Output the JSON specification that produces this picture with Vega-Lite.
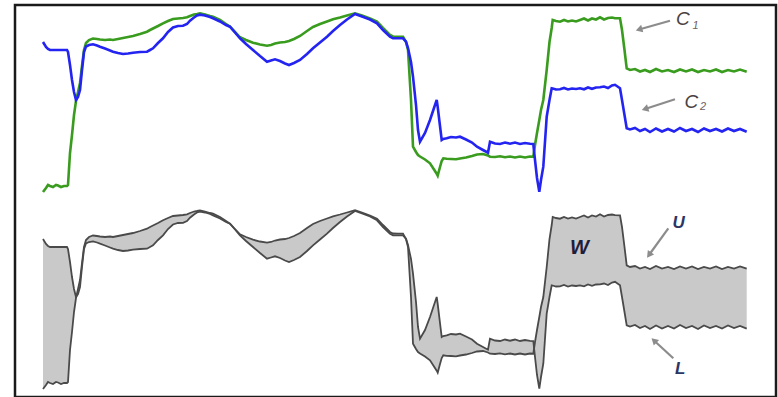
{
  "$schema": "https://vega.github.io/schema/vega-lite/v6.json",
  "autosize": {"type": "fit", "contains": "padding"},
  "width": 778,
  "height": 397,
  "padding": {"left": 15, "top": 5, "right": 2, "bottom": 0},
  "background": "#ffffff",
  "config": {"view": {"stroke": "#1a1a1a", "strokeWidth": 2.5}},
  "datasets": {
    "series": [
      {"t":43,"c1":192,"c2":42},{"t":46,"c1":188,"c2":47},{"t":48,"c1":185,"c2":49},{"t":50,"c1":186,"c2":50},
      {"t":53,"c1":187,"c2":50},{"t":56,"c1":185,"c2":50},{"t":58,"c1":185.5,"c2":50},{"t":61,"c1":187,"c2":50},
      {"t":64,"c1":186,"c2":50},{"t":67,"c1":186,"c2":50},{"t":68,"c1":185,"c2":52},{"t":70,"c1":153,"c2":65},
      {"t":72,"c1":135,"c2":80},{"t":74,"c1":115,"c2":92},{"t":76,"c1":101,"c2":100},{"t":78,"c1":92,"c2":97},
      {"t":80,"c1":83,"c2":90},{"t":82,"c1":66,"c2":70},{"t":84,"c1":50,"c2":52},{"t":86,"c1":43,"c2":46.5},
      {"t":89,"c1":40,"c2":45},{"t":93,"c1":38.5,"c2":44.3},{"t":97,"c1":39,"c2":45.5},{"t":100,"c1":39.5,"c2":46.7},
      {"t":105,"c1":40,"c2":48.5},{"t":110,"c1":39.5,"c2":50.5},{"t":113,"c1":40,"c2":51.7},{"t":118,"c1":39,"c2":53},
      {"t":123,"c1":38,"c2":54},{"t":128,"c1":37,"c2":53.5},{"t":133,"c1":36,"c2":52.7},{"t":140,"c1":34,"c2":52},
      {"t":147,"c1":31.7,"c2":51.7},{"t":150,"c1":30,"c2":50},{"t":153,"c1":28.5,"c2":48.3},{"t":158,"c1":26,"c2":43},
      {"t":163,"c1":23.3,"c2":38.3},{"t":168,"c1":21,"c2":32},{"t":173,"c1":19,"c2":27.5},{"t":178,"c1":18.5,"c2":26},
      {"t":183,"c1":18,"c2":25.8},{"t":187,"c1":17.3,"c2":24},{"t":190,"c1":16,"c2":20.7},{"t":194,"c1":14.5,"c2":17.5},
      {"t":197,"c1":14,"c2":15.5},{"t":200,"c1":13.3,"c2":14.7},{"t":205,"c1":14.5,"c2":15.5},{"t":210,"c1":16,"c2":17},
      {"t":213,"c1":16.7,"c2":18.3},{"t":220,"c1":20,"c2":21.5},{"t":226,"c1":24,"c2":25},{"t":230,"c1":26.7,"c2":26.7},
      {"t":235,"c1":32,"c2":32.5},{"t":240,"c1":37.3,"c2":38.3},{"t":246,"c1":40,"c2":44},{"t":253,"c1":42.7,"c2":50},
      {"t":260,"c1":44.5,"c2":56},{"t":267,"c1":45.7,"c2":61.7},{"t":271,"c1":45,"c2":60.5},{"t":275,"c1":43.5,"c2":59.3},
      {"t":280,"c1":42.5,"c2":61},{"t":285,"c1":42,"c2":63.5},{"t":289,"c1":41,"c2":65},{"t":294,"c1":39,"c2":63},
      {"t":300,"c1":36,"c2":60},{"t":307,"c1":31,"c2":54},{"t":313,"c1":27,"c2":48.3},{"t":320,"c1":24,"c2":42.5},
      {"t":327,"c1":21.5,"c2":36.7},{"t":333,"c1":19.3,"c2":31},{"t":340,"c1":17.5,"c2":25},{"t":347,"c1":15.5,"c2":19.5},
      {"t":355,"c1":13.3,"c2":14},{"t":362,"c1":15.5,"c2":16.5},{"t":370,"c1":18.5,"c2":19.5},{"t":377,"c1":21.7,"c2":23.3},
      {"t":383,"c1":28,"c2":30},{"t":390,"c1":35,"c2":36.7},{"t":393,"c1":36.5,"c2":38.3},{"t":398,"c1":36.7,"c2":38.3},
      {"t":403,"c1":36.7,"c2":38.3},{"t":406,"c1":42,"c2":41.7},{"t":408,"c1":50,"c2":48},{"t":411,"c1":100,"c2":62},
      {"t":413,"c1":146.7,"c2":76.7},{"t":416,"c1":152,"c2":105},{"t":418,"c1":155,"c2":130},{"t":420,"c1":156.5,"c2":141.7},
      {"t":425,"c1":159.5,"c2":133},{"t":430,"c1":163.3,"c2":120},{"t":434,"c1":169.5,"c2":108},{"t":436.7,"c1":173.7,"c2":100},
      {"t":437.7,"c1":175.7,"c2":107},{"t":440,"c1":167,"c2":126},{"t":441.7,"c1":161,"c2":140},{"t":443.3,"c1":158.3,"c2":139},
      {"t":446.7,"c1":158.8,"c2":138.3},{"t":451,"c1":159,"c2":137},{"t":456,"c1":159.3,"c2":137.5},{"t":460,"c1":158.5,"c2":136.7},
      {"t":466,"c1":157.5,"c2":139.5},{"t":472,"c1":156,"c2":142.5},{"t":477,"c1":154.5,"c2":146.7},{"t":483,"c1":154,"c2":150},
      {"t":488,"c1":155.5,"c2":152.7},{"t":490,"c1":156.7,"c2":141.7},{"t":495,"c1":157,"c2":143.5},{"t":500,"c1":156.3,"c2":144},
      {"t":505,"c1":157.3,"c2":142.5},{"t":510,"c1":156.5,"c2":143.7},{"t":515,"c1":157.5,"c2":142.5},{"t":520,"c1":156.5,"c2":144},
      {"t":525,"c1":157.5,"c2":143},{"t":530,"c1":156.5,"c2":143.8},{"t":533.3,"c1":156.7,"c2":144},{"t":535,"c1":145,"c2":160},
      {"t":537,"c1":133,"c2":178},{"t":539.3,"c1":120,"c2":191.7},{"t":541,"c1":110,"c2":180},{"t":543.3,"c1":100,"c2":166.7},
      {"t":546.7,"c1":70,"c2":116.7},{"t":549.5,"c1":42,"c2":100},{"t":551.7,"c1":28,"c2":88.3},{"t":552.7,"c1":20,"c2":88.5},
      {"t":556,"c1":21,"c2":89.5},{"t":560,"c1":21.7,"c2":89.3},{"t":564,"c1":20,"c2":88},{"t":568,"c1":21.5,"c2":89.5},
      {"t":572,"c1":20.5,"c2":88.5},{"t":576,"c1":21.5,"c2":89},{"t":580,"c1":20,"c2":88.3},{"t":584,"c1":18.5,"c2":89.3},
      {"t":588,"c1":20.5,"c2":87.5},{"t":592,"c1":18.5,"c2":88.8},{"t":596,"c1":19.5,"c2":87.5},{"t":600,"c1":17.3,"c2":87.3},
      {"t":604,"c1":19.5,"c2":86.5},{"t":608,"c1":18,"c2":88},{"t":612,"c1":17.5,"c2":85.5},{"t":615,"c1":18.2,"c2":84.8},
      {"t":620,"c1":18.3,"c2":88.3},{"t":622,"c1":30,"c2":100},{"t":624.5,"c1":50,"c2":115},{"t":626.7,"c1":68.3,"c2":128.3},
      {"t":630,"c1":70,"c2":129.5},{"t":635,"c1":69,"c2":128},{"t":640,"c1":71.5,"c2":131},{"t":645,"c1":70,"c2":129},
      {"t":650,"c1":72,"c2":132},{"t":656,"c1":69,"c2":128.5},{"t":662,"c1":71.5,"c2":131.5},{"t":668,"c1":70,"c2":129},
      {"t":674,"c1":72,"c2":131.5},{"t":680,"c1":69.5,"c2":128},{"t":686,"c1":71.5,"c2":131},{"t":692,"c1":69.5,"c2":129},
      {"t":698,"c1":72,"c2":132},{"t":704,"c1":70,"c2":128.5},{"t":710,"c1":71.5,"c2":131},{"t":716,"c1":69.5,"c2":129},
      {"t":722,"c1":72,"c2":131.5},{"t":728,"c1":70,"c2":128.5},{"t":734,"c1":71.5,"c2":131},{"t":740,"c1":69.5,"c2":129},
      {"t":746.7,"c1":71.7,"c2":131.7}
    ],
    "arrows": [
      {"name":"C1","x":670,"y":20.7,"x2":639,"y2":29.5,"angle":254},
      {"name":"C2","x":675,"y":99.3,"x2":645,"y2":109,"angle":252},
      {"name":"U","x":668.3,"y":228.3,"x2":649,"y2":255,"angle":216},
      {"name":"L","x":673.3,"y":358.3,"x2":654,"y2":340.5,"angle":313}
    ],
    "bigLabels": [
      {"label":"C","x":676,"y":19},
      {"label":"C","x":684.5,"y":102}
    ],
    "subLabels": [
      {"label":"1","x":692.5,"y":25.5},
      {"label":"2","x":700,"y":106.5}
    ],
    "envLabels": [
      {"label":"U","x":672.5,"y":222.5},
      {"label":"L","x":675,"y":368.5}
    ],
    "wLabel": [
      {"label":"W","x":570,"y":248}
    ]
  },
  "layer": [
    {
      "data": {"name": "series"},
      "mark": {"type": "area", "color": "#c9c9c9", "yOffset": 197, "y2Offset": 197},
      "encoding": {
        "x": {"field": "t", "type": "quantitative", "axis": null, "scale": {"domain": [15, 776], "nice": false, "zero": false}},
        "y": {"field": "c1", "type": "quantitative", "axis": null, "scale": {"domain": [5, 397], "reverse": true, "nice": false, "zero": false}},
        "y2": {"field": "c2"}
      }
    },
    {
      "data": {"name": "series"},
      "mark": {"type": "line", "color": "#4a4a4a", "strokeWidth": 1.8, "yOffset": 197},
      "encoding": {
        "x": {"field": "t", "type": "quantitative", "axis": null, "scale": {"domain": [15, 776], "nice": false, "zero": false}},
        "y": {"field": "c1", "type": "quantitative", "axis": null, "scale": {"domain": [5, 397], "reverse": true, "nice": false, "zero": false}}
      }
    },
    {
      "data": {"name": "series"},
      "mark": {"type": "line", "color": "#4a4a4a", "strokeWidth": 1.8, "yOffset": 197},
      "encoding": {
        "x": {"field": "t", "type": "quantitative", "axis": null, "scale": {"domain": [15, 776], "nice": false, "zero": false}},
        "y": {"field": "c2", "type": "quantitative", "axis": null, "scale": {"domain": [5, 397], "reverse": true, "nice": false, "zero": false}}
      }
    },
    {
      "data": {"name": "series"},
      "mark": {"type": "line", "color": "#3a9c1f", "strokeWidth": 2.6},
      "encoding": {
        "x": {"field": "t", "type": "quantitative", "axis": null, "scale": {"domain": [15, 776], "nice": false, "zero": false}},
        "y": {"field": "c1", "type": "quantitative", "axis": null, "scale": {"domain": [5, 397], "reverse": true, "nice": false, "zero": false}}
      }
    },
    {
      "data": {"name": "series"},
      "mark": {"type": "line", "color": "#2424f2", "strokeWidth": 2.6},
      "encoding": {
        "x": {"field": "t", "type": "quantitative", "axis": null, "scale": {"domain": [15, 776], "nice": false, "zero": false}},
        "y": {"field": "c2", "type": "quantitative", "axis": null, "scale": {"domain": [5, 397], "reverse": true, "nice": false, "zero": false}}
      }
    },
    {
      "data": {"name": "arrows"},
      "mark": {"type": "rule", "color": "#8c8c8c", "strokeWidth": 2.2},
      "encoding": {
        "x": {"field": "x", "type": "quantitative", "axis": null, "scale": {"domain": [15, 776], "nice": false, "zero": false}},
        "y": {"field": "y", "type": "quantitative", "axis": null, "scale": {"domain": [5, 397], "reverse": true, "nice": false, "zero": false}},
        "x2": {"field": "x2"},
        "y2": {"field": "y2"}
      }
    },
    {
      "data": {"name": "arrows"},
      "mark": {"type": "point", "shape": "triangle-up", "filled": true, "color": "#8c8c8c", "opacity": 1, "size": 60},
      "encoding": {
        "x": {"field": "x2", "type": "quantitative", "axis": null, "scale": {"domain": [15, 776], "nice": false, "zero": false}},
        "y": {"field": "y2", "type": "quantitative", "axis": null, "scale": {"domain": [5, 397], "reverse": true, "nice": false, "zero": false}},
        "angle": {"field": "angle", "type": "quantitative", "scale": null}
      }
    },
    {
      "data": {"name": "bigLabels"},
      "mark": {"type": "text", "font": "Liberation Sans", "fontSize": 19, "fontStyle": "italic", "color": "#4a4242", "align": "left", "baseline": "middle"},
      "encoding": {
        "x": {"field": "x", "type": "quantitative", "axis": null, "scale": {"domain": [15, 776], "nice": false, "zero": false}},
        "y": {"field": "y", "type": "quantitative", "axis": null, "scale": {"domain": [5, 397], "reverse": true, "nice": false, "zero": false}},
        "text": {"field": "label"}
      }
    },
    {
      "data": {"name": "subLabels"},
      "mark": {"type": "text", "font": "Liberation Sans", "fontSize": 11, "fontStyle": "italic", "color": "#6a6262", "align": "left", "baseline": "middle"},
      "encoding": {
        "x": {"field": "x", "type": "quantitative", "axis": null, "scale": {"domain": [15, 776], "nice": false, "zero": false}},
        "y": {"field": "y", "type": "quantitative", "axis": null, "scale": {"domain": [5, 397], "reverse": true, "nice": false, "zero": false}},
        "text": {"field": "label"}
      }
    },
    {
      "data": {"name": "envLabels"},
      "mark": {"type": "text", "font": "Liberation Sans", "fontSize": 17, "fontStyle": "italic", "fontWeight": "bold", "color": "#2b3566", "align": "left", "baseline": "middle"},
      "encoding": {
        "x": {"field": "x", "type": "quantitative", "axis": null, "scale": {"domain": [15, 776], "nice": false, "zero": false}},
        "y": {"field": "y", "type": "quantitative", "axis": null, "scale": {"domain": [5, 397], "reverse": true, "nice": false, "zero": false}},
        "text": {"field": "label"}
      }
    },
    {
      "data": {"name": "wLabel"},
      "mark": {"type": "text", "font": "Liberation Sans", "fontSize": 20, "fontStyle": "italic", "fontWeight": "bold", "color": "#1e1e3c", "align": "left", "baseline": "middle"},
      "encoding": {
        "x": {"field": "x", "type": "quantitative", "axis": null, "scale": {"domain": [15, 776], "nice": false, "zero": false}},
        "y": {"field": "y", "type": "quantitative", "axis": null, "scale": {"domain": [5, 397], "reverse": true, "nice": false, "zero": false}},
        "text": {"field": "label"}
      }
    }
  ]
}
